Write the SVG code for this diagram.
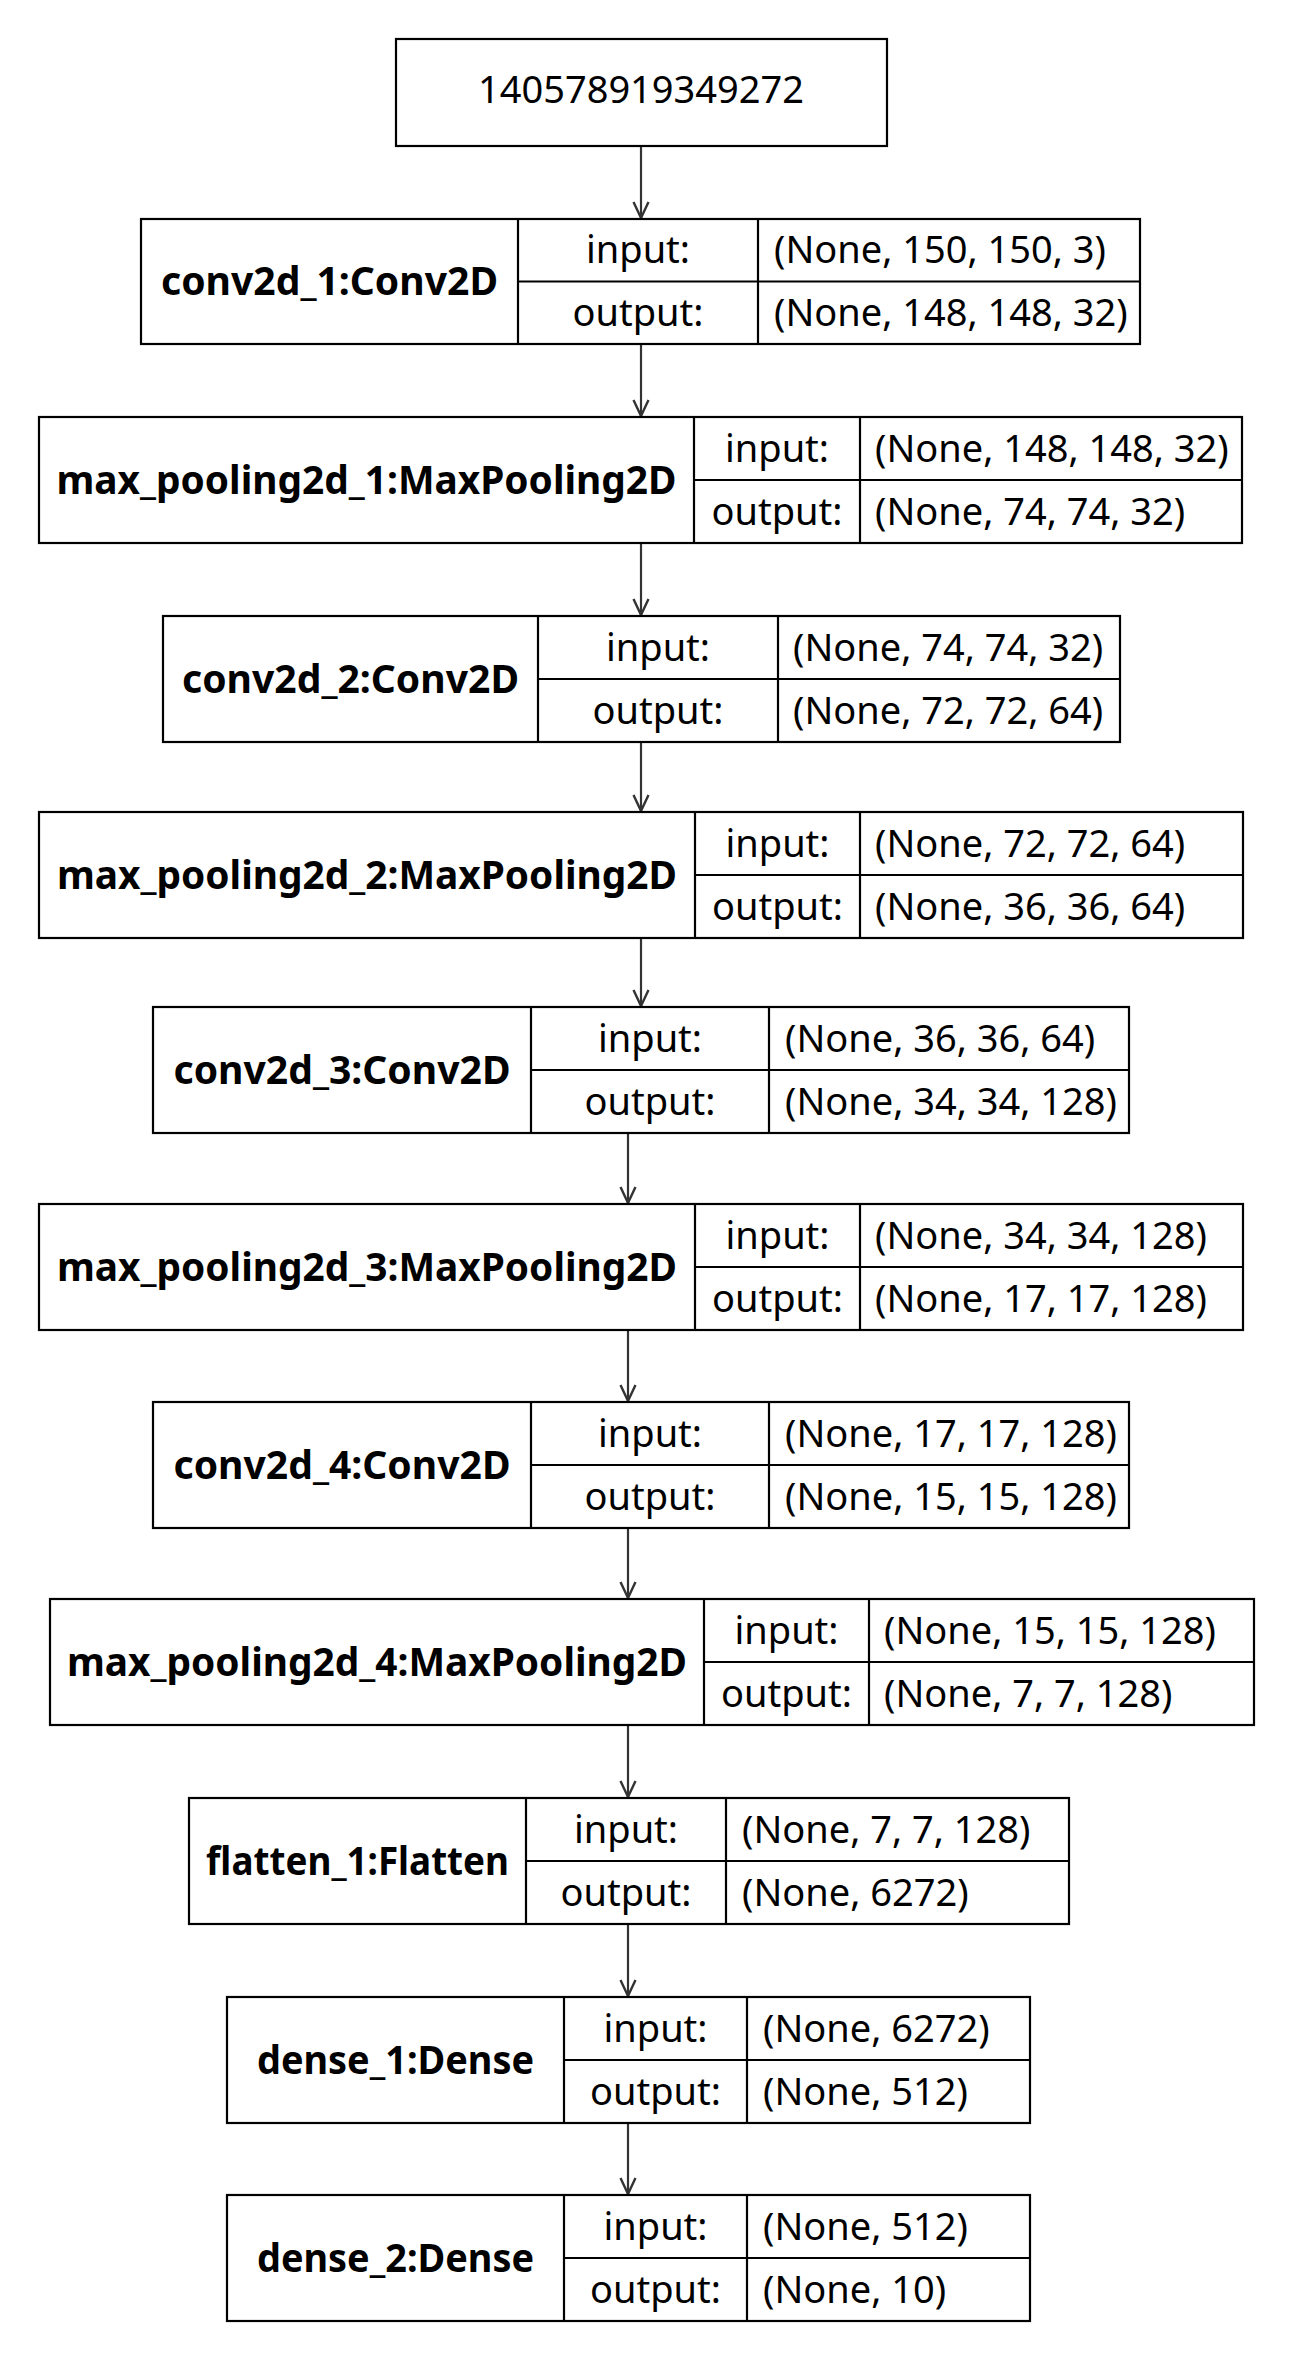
<svg xmlns="http://www.w3.org/2000/svg" width="1313" height="2363" viewBox="0 0 1313 2363">
<style>
.bx{fill:#fff;stroke:#000;stroke-width:2.2}
.ln{stroke:#000;stroke-width:2.2;fill:none}
.t{font-family:"Noto Sans","Open Sans","DejaVu Sans",sans-serif;font-size:38px;fill:#000}
.b{font-weight:bold;text-anchor:middle;font-size:39px}
.c{text-anchor:middle}
.l{text-anchor:start}
.e{stroke:#333;stroke-width:2.2;fill:none}
</style>
<defs>
<marker id="ah" markerUnits="userSpaceOnUse" viewBox="-2 -10 20 20" refX="16" refY="0" markerWidth="20" markerHeight="20" orient="auto" overflow="visible">
<path d="M0,-7.5 L16,0 L0,7.5" fill="none" stroke="#333" stroke-width="2.4"/>
</marker>
</defs>
<rect width="1313" height="2363" fill="#fff"/>
<g id="connectors">
<path class="e" d="M641,146 V218" marker-end="url(#ah)"/>
<path class="e" d="M641,344 V416" marker-end="url(#ah)"/>
<path class="e" d="M641,543 V615" marker-end="url(#ah)"/>
<path class="e" d="M641,742 V811" marker-end="url(#ah)"/>
<path class="e" d="M641,938 V1006" marker-end="url(#ah)"/>
<path class="e" d="M628,1133 V1203" marker-end="url(#ah)"/>
<path class="e" d="M628,1330 V1401" marker-end="url(#ah)"/>
<path class="e" d="M628,1528 V1598" marker-end="url(#ah)"/>
<path class="e" d="M628,1725 V1797" marker-end="url(#ah)"/>
<path class="e" d="M628,1924 V1996" marker-end="url(#ah)"/>
<path class="e" d="M628,2123 V2194" marker-end="url(#ah)"/>
</g>
<g id="input_node">
<rect class="bx" x="396" y="39" width="491" height="107"/>
<text class="t c" x="641" y="103">140578919349272</text>
</g>
<g id="conv2d_1">
<rect class="bx" x="141" y="219" width="999" height="125"/>
<path class="ln" d="M518,219 V344 M758,219 V344 M518,281.5 H1140"/>
<text class="t b" x="329.5" y="295" textLength="337" lengthAdjust="spacingAndGlyphs">conv2d_1:Conv2D</text>
<text class="t c" x="638" y="263">input:</text>
<text class="t c" x="638" y="326">output:</text>
<text class="t l" x="774" y="263">(None, 150, 150, 3)</text>
<text class="t l" x="774" y="326">(None, 148, 148, 32)</text>
</g>
<g id="max_pooling2d_1">
<rect class="bx" x="39" y="417" width="1203" height="126"/>
<path class="ln" d="M694,417 V543 M860,417 V543 M694,480 H1242"/>
<text class="t b" x="366.5" y="493.5" textLength="620" lengthAdjust="spacingAndGlyphs">max_pooling2d_1:MaxPooling2D</text>
<text class="t c" x="777" y="461.5">input:</text>
<text class="t c" x="777" y="524.5">output:</text>
<text class="t l" x="875" y="461.5">(None, 148, 148, 32)</text>
<text class="t l" x="875" y="524.5">(None, 74, 74, 32)</text>
</g>
<g id="conv2d_2">
<rect class="bx" x="163" y="616" width="957" height="126"/>
<path class="ln" d="M538,616 V742 M778,616 V742 M538,679 H1120"/>
<text class="t b" x="350.5" y="692.5" textLength="337" lengthAdjust="spacingAndGlyphs">conv2d_2:Conv2D</text>
<text class="t c" x="658" y="660.5">input:</text>
<text class="t c" x="658" y="723.5">output:</text>
<text class="t l" x="793" y="660.5">(None, 74, 74, 32)</text>
<text class="t l" x="793" y="723.5">(None, 72, 72, 64)</text>
</g>
<g id="max_pooling2d_2">
<rect class="bx" x="39" y="812" width="1204" height="126"/>
<path class="ln" d="M695,812 V938 M860,812 V938 M695,875 H1243"/>
<text class="t b" x="367" y="888.5" textLength="620" lengthAdjust="spacingAndGlyphs">max_pooling2d_2:MaxPooling2D</text>
<text class="t c" x="777.5" y="856.5">input:</text>
<text class="t c" x="777.5" y="919.5">output:</text>
<text class="t l" x="875" y="856.5">(None, 72, 72, 64)</text>
<text class="t l" x="875" y="919.5">(None, 36, 36, 64)</text>
</g>
<g id="conv2d_3">
<rect class="bx" x="153" y="1007" width="976" height="126"/>
<path class="ln" d="M531,1007 V1133 M769,1007 V1133 M531,1070 H1129"/>
<text class="t b" x="342" y="1083.5" textLength="337" lengthAdjust="spacingAndGlyphs">conv2d_3:Conv2D</text>
<text class="t c" x="650" y="1051.5">input:</text>
<text class="t c" x="650" y="1114.5">output:</text>
<text class="t l" x="785" y="1051.5">(None, 36, 36, 64)</text>
<text class="t l" x="785" y="1114.5">(None, 34, 34, 128)</text>
</g>
<g id="max_pooling2d_3">
<rect class="bx" x="39" y="1204" width="1204" height="126"/>
<path class="ln" d="M695,1204 V1330 M860,1204 V1330 M695,1267 H1243"/>
<text class="t b" x="367" y="1280.5" textLength="620" lengthAdjust="spacingAndGlyphs">max_pooling2d_3:MaxPooling2D</text>
<text class="t c" x="777.5" y="1248.5">input:</text>
<text class="t c" x="777.5" y="1311.5">output:</text>
<text class="t l" x="875" y="1248.5">(None, 34, 34, 128)</text>
<text class="t l" x="875" y="1311.5">(None, 17, 17, 128)</text>
</g>
<g id="conv2d_4">
<rect class="bx" x="153" y="1402" width="976" height="126"/>
<path class="ln" d="M531,1402 V1528 M769,1402 V1528 M531,1465 H1129"/>
<text class="t b" x="342" y="1478.5" textLength="337" lengthAdjust="spacingAndGlyphs">conv2d_4:Conv2D</text>
<text class="t c" x="650" y="1446.5">input:</text>
<text class="t c" x="650" y="1509.5">output:</text>
<text class="t l" x="785" y="1446.5">(None, 17, 17, 128)</text>
<text class="t l" x="785" y="1509.5">(None, 15, 15, 128)</text>
</g>
<g id="max_pooling2d_4">
<rect class="bx" x="50" y="1599" width="1204" height="126"/>
<path class="ln" d="M704,1599 V1725 M869,1599 V1725 M704,1662 H1254"/>
<text class="t b" x="377" y="1675.5" textLength="620" lengthAdjust="spacingAndGlyphs">max_pooling2d_4:MaxPooling2D</text>
<text class="t c" x="786.5" y="1643.5">input:</text>
<text class="t c" x="786.5" y="1706.5">output:</text>
<text class="t l" x="884" y="1643.5">(None, 15, 15, 128)</text>
<text class="t l" x="884" y="1706.5">(None, 7, 7, 128)</text>
</g>
<g id="flatten_1">
<rect class="bx" x="189" y="1798" width="880" height="126"/>
<path class="ln" d="M526,1798 V1924 M726,1798 V1924 M526,1861 H1069"/>
<text class="t b" x="357.5" y="1874.5" textLength="303" lengthAdjust="spacingAndGlyphs">flatten_1:Flatten</text>
<text class="t c" x="626" y="1842.5">input:</text>
<text class="t c" x="626" y="1905.5">output:</text>
<text class="t l" x="742" y="1842.5">(None, 7, 7, 128)</text>
<text class="t l" x="742" y="1905.5">(None, 6272)</text>
</g>
<g id="dense_1">
<rect class="bx" x="227" y="1997" width="803" height="126"/>
<path class="ln" d="M564,1997 V2123 M747,1997 V2123 M564,2060 H1030"/>
<text class="t b" x="395.5" y="2073.5" textLength="277" lengthAdjust="spacingAndGlyphs">dense_1:Dense</text>
<text class="t c" x="655.5" y="2041.5">input:</text>
<text class="t c" x="655.5" y="2104.5">output:</text>
<text class="t l" x="763" y="2041.5">(None, 6272)</text>
<text class="t l" x="763" y="2104.5">(None, 512)</text>
</g>
<g id="dense_2">
<rect class="bx" x="227" y="2195" width="803" height="126"/>
<path class="ln" d="M564,2195 V2321 M747,2195 V2321 M564,2258 H1030"/>
<text class="t b" x="395.5" y="2271.5" textLength="277" lengthAdjust="spacingAndGlyphs">dense_2:Dense</text>
<text class="t c" x="655.5" y="2239.5">input:</text>
<text class="t c" x="655.5" y="2302.5">output:</text>
<text class="t l" x="763" y="2239.5">(None, 512)</text>
<text class="t l" x="763" y="2302.5">(None, 10)</text>
</g>
</svg>
